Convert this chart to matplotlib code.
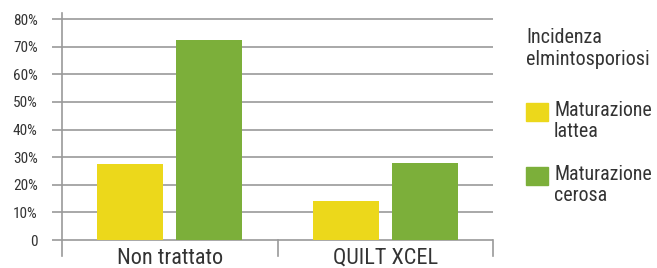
import matplotlib
matplotlib.use("Agg")
import matplotlib.pyplot as plt
import numpy as np
from matplotlib.patches import Rectangle

plt.rcParams['font.family'] = ['Roboto Condensed', 'DejaVu Sans']

# dati
categorie = ["Non trattato", "QUILT XCEL"]
lattea = [27.5, 14.0]
cerosa = [72.5, 28.0]
serie_nomi = ["Maturazione\nlattea", "Maturazione\ncerosa"]
yticks = [0, 10, 20, 30, 40, 50, 60, 70, 80]
ytick_lab = ["0", "10%", "20%", "30%", "40%", "50%", "60%", "70%", "80%"]

GIALLO = "#ecd81b"
VERDE = "#7caf3a"
TESTO = "#333333"
GRIGIO = "#9a9a9a"

W, H = 657, 268
fig = plt.figure(figsize=(W / 100, H / 100), dpi=100)
# asse: x 62..493 px, y 0 -> 240 px, 80 -> 19 px
px10 = (240 - 19) / 8.0
ymin = -(256 - 240) / px10 * 10
ymax = 80 + (19 - 13) / px10 * 10
ax = fig.add_axes([62 / W, (H - 256) / H, (493 - 62) / W, (256 - 13) / H])
ax.set_xlim(-0.5, 1.5)
ax.set_ylim(ymin, ymax)
for s in ax.spines.values():
    s.set_visible(False)

x = np.arange(len(categorie))
w = 0.307
off = 0.183
ax.bar(x - off, lattea, w, color=GIALLO, zorder=3)
ax.bar(x + off, cerosa, w, color=VERDE, zorder=3)

for v in yticks:
    ax.axhline(v, color=GRIGIO, lw=1.2, zorder=1)
ax.set_yticks(yticks)
ax.set_yticklabels(ytick_lab, fontsize=11, color=TESTO)
ax.tick_params(axis='y', length=7.5, width=1.2, color=GRIGIO, pad=10)
ax.set_xticks([])

# asse verticale e separatori categorie
ax.plot([-0.5, -0.5], [ymin, ymax], color=GRIGIO, lw=1.2, clip_on=False, zorder=2)
for xs in [0.5, 1.5]:
    ax.plot([xs, xs], [ymin, 0], color=GRIGIO, lw=1.2, clip_on=False, zorder=2)

for i, c in enumerate(categorie):
    fig.text((62 + (i + 0.5) * 215.5) / W, (H - 264) / H, c, ha='center', va='baseline',
             fontsize=16, color=TESTO)

# legenda
fig.text(526 / W, (H - 65) / H, "Incidenza\nelmintosporiosi", ha='left', va='baseline',
         fontsize=14.5, color=TESTO, linespacing=1.17)
for j, (nome, col) in enumerate(zip(serie_nomi, [GIALLO, VERDE])):
    ytop = 103 + j * 64
    fig.patches.append(Rectangle((526 / W, (H - ytop - 18) / H), 22 / W, 18 / H,
                                 transform=fig.transFigure, color=col))
    fig.text(554 / W, (H - ytop + 2) / H, nome, ha='left', va='top',
             fontsize=14.3, color=TESTO, linespacing=1.15)

fig.savefig("out.png", dpi=100)
